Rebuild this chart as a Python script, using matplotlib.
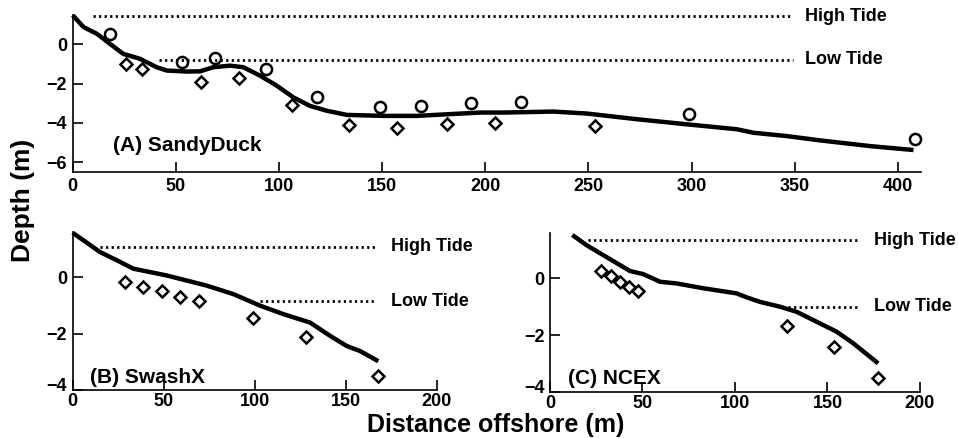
import numpy as np
import matplotlib
matplotlib.use("Agg")
import matplotlib.pyplot as plt
import matplotlib.transforms as mtransforms

plt.rcParams['font.family'] = ['Liberation Sans', 'DejaVu Sans']
plt.rcParams['font.weight'] = 'bold'

# (A) SandyDuck
a_line_x = [0, 5.2, 11.6, 18.1, 24.5, 32.6, 40.7, 45.6, 55.3, 61.7, 68.2, 76.3, 82.7, 90.8,
            98.9, 107, 115, 123.2, 132.9, 150.6, 166.8, 183, 197.6, 208.8, 233, 249.2, 273.5,
            297.7, 321.9, 330, 346.2, 362.4, 386.6, 407.6]
a_line_y = [1.49, 0.89, 0.55, 0.03, -0.48, -0.73, -1.16, -1.33, -1.38, -1.37, -1.16, -1.08, -1.16, -1.59,
            -2.10, -2.70, -3.13, -3.38, -3.59, -3.64, -3.64, -3.55, -3.47, -3.47, -3.42, -3.52, -3.81,
            -4.07, -4.32, -4.50, -4.67, -4.89, -5.18, -5.38]
a_circ_x = [18.1, 52.8, 69, 93.6, 118.6, 149, 168.7, 193, 217.2, 298.8, 408.4]
a_circ_y = [0.55, -0.91, -0.68, -1.25, -2.67, -3.21, -3.15, -2.99, -2.92, -3.56, -4.84]
a_diam_x = [25.8, 33.4, 62.2, 80.8, 106.2, 134.1, 157.4, 181.3, 204.8, 253.3]
a_diam_y = [-0.99, -1.25, -1.90, -1.71, -3.09, -4.10, -4.26, -4.07, -3.98, -4.15]
a_high = (10, 349, 1.43)
a_low = (42, 349, -0.78)

# (B) SwashX
b_line_x = [0, 5.8, 15, 24.2, 33.3, 42.5, 51.6, 62.6, 73.6, 88.2, 102.9, 115.7, 130.4, 141.4,
            150.5, 157.9, 167.9]
b_line_y = [1.57, 1.31, 0.89, 0.6, 0.3, 0.18, 0.06, -0.12, -0.3, -0.6, -1.01, -1.31, -1.61, -2.08,
            -2.44, -2.62, -2.98]
b_diam_x = [28.8, 38.8, 49.2, 59, 69.4, 99.2, 128.2, 167.9]
b_diam_y = [-0.18, -0.36, -0.5, -0.71, -0.83, -1.45, -2.12, -3.49]
b_high = (15, 166, 1.07)
b_low = (103, 166, -0.86)

# (C) NCEX
c_line_x = [12.1, 19.8, 28.8, 37.8, 43.2, 50.4, 59.5, 68.5, 82.9, 100.9, 106.3, 113.5, 124.3,
            133.3, 144.1, 154.9, 163.9, 177.4]
c_line_y = [1.53, 1.17, 0.82, 0.47, 0.26, 0.15, -0.12, -0.18, -0.35, -0.53, -0.67, -0.83, -1.0,
            -1.18, -1.53, -1.88, -2.29, -3.0]
c_diam_x = [27.4, 32.8, 37.8, 42.7, 47.7, 128.3, 153.7, 177.1]
c_diam_y = [0.26, 0.08, -0.12, -0.3, -0.44, -1.67, -2.44, -3.5]
c_high = (20.5, 167.6, 1.34)
c_low = (128.6, 167.6, -1.0)

fs = 13
dot_style = dict(color='black', linewidth=2.0, linestyle=(0, (0.8, 1.2)))
line_style = dict(color='black', linewidth=3.2, solid_capstyle='butt', solid_joinstyle='round')
circ_style = dict(linestyle='none', marker='o', markersize=8, markerfacecolor='none',
                  markeredgecolor='black', markeredgewidth=1.8)
diam_style = dict(linestyle='none', marker='D', markersize=6.5, markerfacecolor='none',
                  markeredgecolor='black', markeredgewidth=1.8)


def style_axes(ax, pad=4):
    ax.spines['top'].set_visible(False)
    ax.spines['right'].set_visible(False)
    ax.spines['left'].set_linewidth(1.2)
    ax.spines['bottom'].set_linewidth(1.2)
    ax.tick_params(direction='in', length=7, width=1.2, labelsize=fs, pad=4)
    ax.tick_params(axis='x', pad=pad)
    for lab in ax.get_xticklabels() + ax.get_yticklabels():
        lab.set_fontweight('bold')
    for t in ax.get_xticklines() + ax.get_yticklines():
        t.set_clip_on(False)


def tides(ax, high, low, text_x):
    ax.plot([high[0], high[1]], [high[2], high[2]], **dot_style)
    ax.plot([low[0], low[1]], [low[2], low[2]], **dot_style)
    ax.text(text_x, high[2], 'High Tide', fontsize=fs, fontweight='bold', va='center', ha='left')
    ax.text(text_x, low[2], 'Low Tide', fontsize=fs, fontweight='bold', va='center', ha='left')


fig = plt.figure(figsize=(9.58, 4.38), dpi=100)

axA = fig.add_axes([0.0759, 0.6073, 0.885, 0.3584])
axA.plot(a_line_x, a_line_y, **line_style)
axA.plot(a_circ_x, a_circ_y, **circ_style)
axA.plot(a_diam_x, a_diam_y, **diam_style)
tides(axA, a_high, a_low, 355)
axA.text(19.7, -5.13, '(A) SandyDuck', fontsize=15, fontweight='bold', va='center')
axA.set_xlim(0, 411)
axA.set_ylim(-6.5, 1.5)
axA.set_xticks([0, 50, 100, 150, 200, 250, 300, 350, 400])
axA.set_yticks([0, -2, -4, -6])
axA.patch.set_visible(False)
style_axes(axA)

axB = fig.add_axes([0.0759, 0.1096, 0.380, 0.3607])
axB.plot(b_line_x, b_line_y, **line_style)
axB.plot(b_diam_x, b_diam_y, **diam_style)
tides(axB, b_high, b_low, 175)
axB.text(9.5, -3.57, '(B) SwashX', fontsize=15, fontweight='bold', va='center')
axB.set_xlim(0, 200)
axB.set_ylim(-4, 1.6)
axB.set_xticks([0, 50, 100, 150, 200])
axB.set_yticks([0, -2, -4])
style_axes(axB, pad=2.5)

axC = fig.add_axes([0.5741, 0.1057, 0.3862, 0.3623])
axC.plot(c_line_x, c_line_y, **line_style)
axC.plot(c_diam_x, c_diam_y, **diam_style)
tides(axC, c_high, c_low, 175)
axC.text(9.9, -3.53, '(C) NCEX', fontsize=15, fontweight='bold', va='center')
axC.set_xlim(0, 200)
axC.set_ylim(-4, 1.6)
axC.set_xticks([0, 50, 100, 150, 200])
axC.set_yticks([0, -2, -4])
style_axes(axC, pad=2.5)

# lift the bottom "-4" labels a little, as in the original
fig.canvas.draw()
for a in [axB, axC]:
    lab = a.get_yticklabels()[-1]
    lab.set_transform(lab.get_transform() +
                      mtransforms.ScaledTranslation(0, 4 / 72, fig.dpi_scale_trans))

for a in [axA, axB, axC]:
    for art in a.lines + a.texts:
        art.set_clip_on(False)

fig.text(0.0235, 0.543, 'Depth (m)', rotation=90, fontsize=19, fontweight='bold',
         ha='center', va='center')
fig.text(0.517, 1 - 432 / 438, 'Distance offshore (m)', fontsize=18, fontweight='bold',
         ha='center', va='baseline')

fig.savefig('out.png', dpi=100)
